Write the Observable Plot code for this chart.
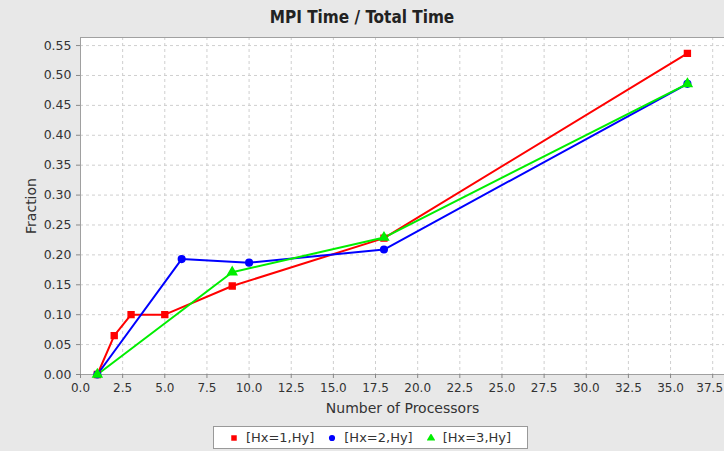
<!DOCTYPE html>
<html><head><meta charset="utf-8">
<script src="https://cdn.jsdelivr.net/npm/d3@7"></script>
<script src="https://cdn.jsdelivr.net/npm/@observablehq/plot@0.6"></script>
<style>
html,body{margin:0;padding:0;background:#e8e8e8;}
#wrap{position:relative;width:724px;height:451px;font-family:"DejaVu Sans",sans-serif;}
#title{position:absolute;left:0;top:7px;width:724px;text-align:center;font-weight:bold;font-size:17px;color:#222;font-family:"DejaVu Sans Condensed","DejaVu Sans",sans-serif;}
#legend{position:absolute;left:213px;top:426px;width:313px;height:21px;background:#fff;border:1px solid #999;font-size:13px;color:#333;display:flex;align-items:center;justify-content:center;gap:14px;}
#legend span{display:flex;align-items:center;gap:8px;}
svg.plot{position:absolute;left:0;top:0;}
</style></head>
<body><div id="wrap"><div id="title">MPI Time / Total Time</div><div id="legend"></div></div>
<script>
const seriesNames = ["[Hx=1,Hy]", "[Hx=2,Hy]", "[Hx=3,Hy]"];
const seriesColors = ["#ff0000", "#0000ff", "#00ee00"];
const seriesSymbols = ["square", "circle", "triangle"];
const hx1Procs = [1, 2, 3, 5, 9, 18, 36];
const hx1Frac  = [0.0, 0.065, 0.100, 0.100, 0.148, 0.228, 0.537];
const hx2Procs = [1, 6, 10, 18, 36];
const hx2Frac  = [0.0, 0.193, 0.187, 0.209, 0.486];
const hx3Procs = [1, 9, 18, 36];
const hx3Frac  = [0.0, 0.171, 0.229, 0.486];
const xTicks = d3.range(0, 37.6, 2.5);
const yTicks = d3.range(0, 0.551, 0.05);

const data = [];
[[hx1Procs, hx1Frac], [hx2Procs, hx2Frac], [hx3Procs, hx3Frac]].forEach(([xs, ys], i) => {
  xs.forEach((x, j) => data.push({series: seriesNames[i], x, y: ys[j]}));
});

const plot = Plot.plot({
  width: 724, height: 451,
  marginLeft: 80, marginRight: 0, marginTop: 37, marginBottom: 77,
  style: {fontFamily: "DejaVu Sans, sans-serif", fontSize: "12px", color: "#333", background: "transparent", overflow: "visible"},
  x: {domain: [0, 38.2], ticks: xTicks, tickFormat: d3.format(".1f"), label: "Number of Processors", labelAnchor: "center", labelArrow: "none", labelOffset: 38},
  y: {domain: [0, 0.5635], ticks: yTicks, tickFormat: d3.format(".2f"), label: "Fraction", labelAnchor: "center", labelArrow: "none", labelOffset: 52},
  color: {domain: seriesNames, range: seriesColors},
  symbol: {domain: seriesNames, range: seriesSymbols},
  marks: [
    Plot.frame({fill: "#fff", stroke: "none"}),
    Plot.gridX(xTicks, {stroke: "#cfcfcf", strokeOpacity: 1, strokeDasharray: "3,3"}),
    Plot.gridY(yTicks, {stroke: "#cfcfcf", strokeOpacity: 1, strokeDasharray: "3,3"}),
    Plot.frame({stroke: "#a0a0a0"}),
    Plot.axisX({ticks: xTicks, tickFormat: d3.format(".1f"), tickSize: 4, stroke: "#888", fontSize: 12, label: "Number of Processors", labelAnchor: "center", labelArrow: "none", labelOffset: 38}),
    Plot.axisY({ticks: yTicks, tickFormat: d3.format(".2f"), tickSize: 4, stroke: "#888", fontSize: 12.5, label: "Fraction", labelAnchor: "center", labelArrow: "none", labelOffset: 54}),
    Plot.line(data, {x: "x", y: "y", z: "series", stroke: "series", strokeWidth: 2}),
    Plot.dot(data, {x: "x", y: "y", fill: "series", stroke: "series", symbol: "series", r: 3.3})
  ]
});
plot.querySelectorAll('[aria-label="x-axis label"] text, [aria-label="y-axis label"] text').forEach(t => t.style.fontSize = "14px");
const xLabels = plot.querySelectorAll('[aria-label="x-axis tick label"] text');
if (xLabels.length) xLabels[xLabels.length - 1].setAttribute("dx", "-3");
document.getElementById("wrap").appendChild(plot);

const legend = document.getElementById("legend");
seriesNames.forEach((n, i) => {
  const s = document.createElement("span");
  const svg = d3.create("svg").attr("width", 8).attr("height", 8);
  svg.append("path").attr("transform", "translate(4,4)")
    .attr("d", d3.symbol(i === 0 ? d3.symbolSquare : i === 1 ? d3.symbolCircle : d3.symbolTriangle, 30)())
    .attr("fill", seriesColors[i]);
  s.appendChild(svg.node());
  s.appendChild(document.createTextNode(n));
  legend.appendChild(s);
});
</script></body></html>
